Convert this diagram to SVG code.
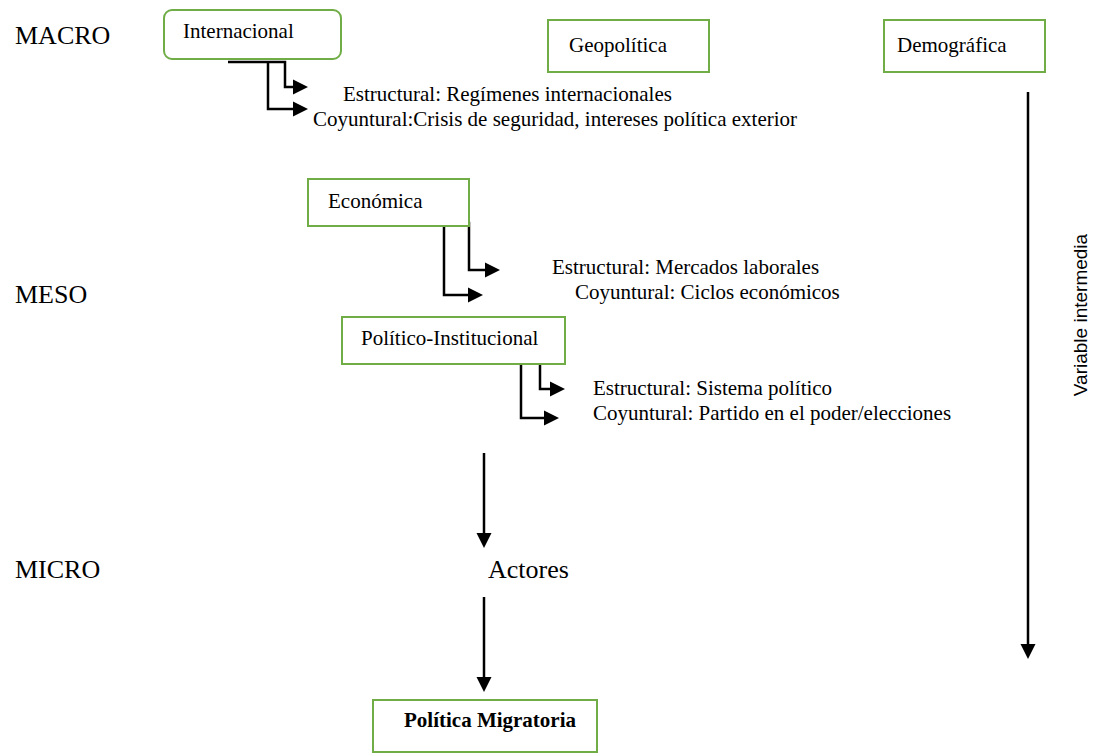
<svg xmlns="http://www.w3.org/2000/svg" width="1094" height="755" viewBox="0 0 1094 755">
<style>
.box{fill:#fff;stroke:#70AD47;stroke-width:2}
.t{font-family:"Liberation Serif","Times New Roman",serif;font-size:21px;fill:#000}
.lvl{font-family:"Liberation Serif","Times New Roman",serif;font-size:26px;fill:#000}
.b{font-weight:bold}
.side{font-family:"Liberation Sans",Arial,sans-serif;font-size:19px;fill:#000}
.conn{fill:none;stroke:#000;stroke-width:2.5}
</style>
<defs>
<marker id="ah" markerUnits="userSpaceOnUse" markerWidth="15" markerHeight="16" refX="0" refY="8" orient="auto" overflow="visible">
<path d="M0,0.5 L15,8 L0,15.5 z" fill="#000"/>
</marker>
</defs>
<rect width="1094" height="755" fill="#fff"/>
<g id="levels">
<text class="lvl" x="15" y="44">MACRO</text>
<text class="lvl" x="15" y="303">MESO</text>
<text class="lvl" x="15" y="578">MICRO</text>
</g>
<g id="connectors">
<path class="conn" d="M228,62 H285 V87 H293" marker-end="url(#ah)"/>
<path class="conn" d="M268,62 V109 H293" marker-end="url(#ah)"/>
<path class="conn" d="M405,223 H469 V270 H485" marker-end="url(#ah)"/>
<path class="conn" d="M444,223 V295 H468" marker-end="url(#ah)"/>
<path class="conn" d="M485,363 H540 V389 H550" marker-end="url(#ah)"/>
<path class="conn" d="M521,363 V418 H544" marker-end="url(#ah)"/>
<path class="conn" d="M484,453 V533" marker-end="url(#ah)"/>
<path class="conn" d="M484,597 V677" marker-end="url(#ah)"/>
<path class="conn" d="M1028,92 V644" marker-end="url(#ah)"/>
</g>
<g id="internacional">
<rect class="box" x="164" y="10" width="177" height="49" rx="8"/>
<text class="t" x="183" y="38">Internacional</text>
</g>
<g id="geopolitica">
<rect class="box" x="548" y="20" width="161" height="52"/>
<text class="t" x="569" y="52">Geopolítica</text>
</g>
<g id="demografica">
<rect class="box" x="884" y="20" width="161" height="52"/>
<text class="t" x="897" y="52">Demográfica</text>
</g>
<g id="internacional-labels">
<text class="t" x="343" y="101">Estructural: Regímenes internacionales</text>
<text class="t" x="313" y="126">Coyuntural:Crisis de seguridad, intereses política exterior</text>
</g>
<g id="economica">
<rect class="box" x="308" y="179" width="161" height="47"/>
<text class="t" x="328" y="208">Económica</text>
</g>
<g id="economica-labels">
<text class="t" x="552" y="274">Estructural: Mercados laborales</text>
<text class="t" x="575" y="299">Coyuntural: Ciclos económicos</text>
</g>
<g id="politico">
<rect class="box" x="342" y="317" width="223" height="47"/>
<text class="t" x="361" y="345">Político-Institucional</text>
</g>
<g id="politico-labels">
<text class="t" x="593" y="395">Estructural: Sistema político</text>
<text class="t" x="593" y="420">Coyuntural: Partido en el poder/elecciones</text>
</g>
<g id="actores">
<text class="lvl" x="488" y="578">Actores</text>
</g>
<g id="politica-migratoria">
<rect class="box" x="373" y="700" width="224" height="52"/>
<text class="t b" x="404" y="727">Política Migratoria</text>
</g>
<g id="variable">
<text class="side" transform="translate(1087,315) rotate(-90)" text-anchor="middle">Variable intermedia</text>
</g>
</svg>
